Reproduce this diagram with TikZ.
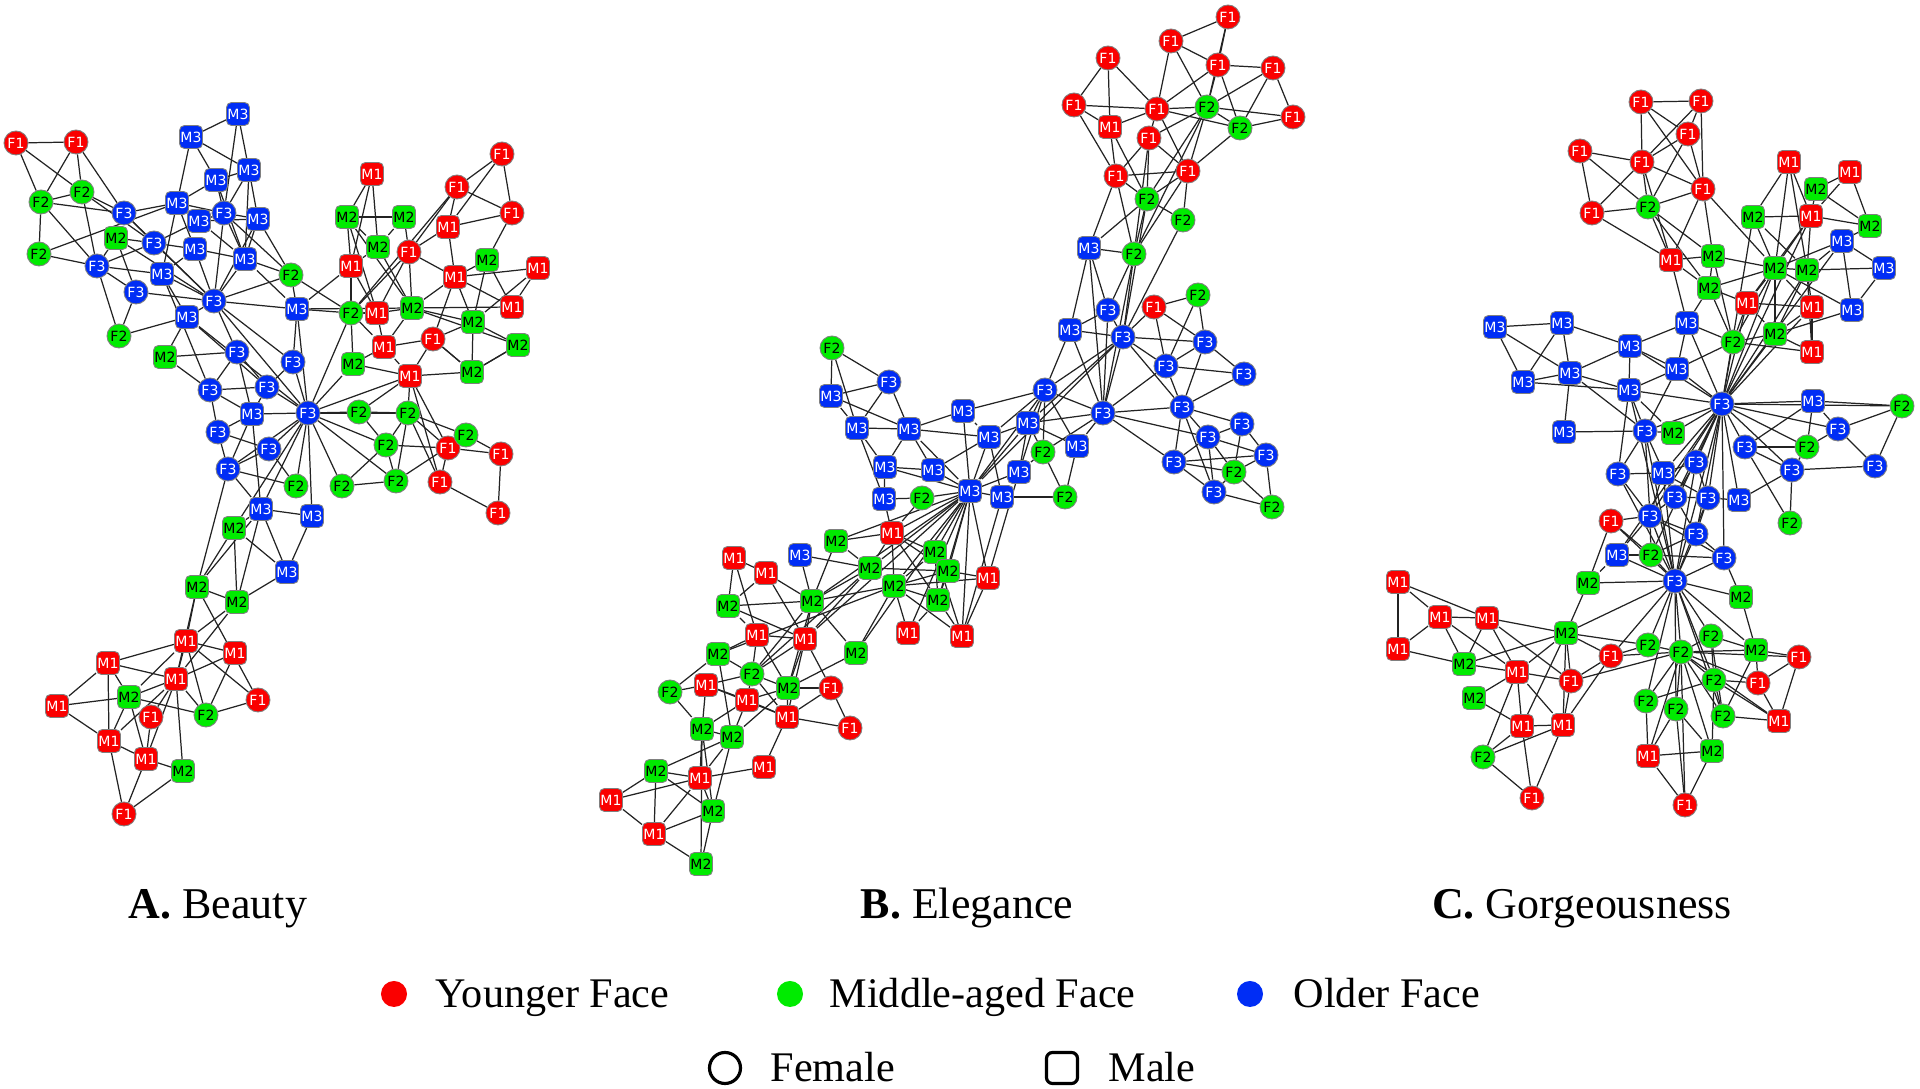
\documentclass[tikz,border=0pt]{standalone}
\usepackage{fontspec}
\setmainfont{Liberation Serif}
\newfontfamily\nodesans{DejaVu Sans}
\usetikzlibrary{backgrounds}
\definecolor{youngcolor}{RGB}{250, 0, 0}
\definecolor{middlecolor}{RGB}{0, 235, 0}
\definecolor{oldcolor}{RGB}{0, 45, 245}
\definecolor{linkcolor}{RGB}{35, 35, 35}
\tikzset{
face/.style={
  draw=black!50,
  line width=0.25pt,
  inner sep=0pt,
  font=\nodesans\fontsize{4}{4.5}\selectfont
},
female/.style={face, circle, minimum size=2.4mm},
male/.style={face, rectangle, rounded corners=0.5mm, minimum size=2.3mm},
young/.style={fill=youngcolor, text=white},
middle/.style={fill=middlecolor, text=black},
old/.style={fill=oldcolor, text=white},
F1/.style={female, young},
F2/.style={female, middle},
F3/.style={female, old},
M1/.style={male, young},
M2/.style={male, middle},
M3/.style={male, old},
link/.style={draw=linkcolor, line width=0.35pt},
caption/.style={anchor=base, font=\fontsize{12.5}{14}\selectfont},
legenddot/.style={circle, inner sep=0pt, minimum size=2.6mm},
legendmark/.style={draw=black, line width=0.9pt, inner sep=0pt, minimum size=3.1mm},
legendtext/.style={anchor=base west, inner sep=0pt, font=\fontsize{12}{14}\selectfont}
}

\begin{document}
\begin{tikzpicture}[x=0.01cm, y=-0.01cm]
\useasboundingbox (0,0) rectangle (1920,1089);

% A. Beauty
\foreach \n/\x/\y in {a1/16/143, a2/76/142, a34/409/252, a40/433/339, a42/457/187, a43/502/154, a44/512/213, a70/448/448, a71/501/454, a72/440/482, a73/498/513, a84/151/717, a86/258/700, a90/124/814}
  \node[F1] (\n) at (\x,\y) {F1};
\foreach \n/\x/\y in {a3/41/202, a4/82/192, a5/39/254, a11/119/336, a27/291/275, a36/351/313, a61/296/486, a66/359/412, a67/408/413, a68/386/445, a69/466/435, a74/342/486, a75/396/481, a85/206/715}
  \node[F2] (\n) at (\x,\y) {F2};
\foreach \n/\x/\y in {a6/124/213, a8/154/243, a9/97/266, a10/136/292, a17/224/213, a23/214/301, a26/237/352, a29/293/362, a54/210/390, a55/267/387, a57/308/413, a58/218/432, a59/269/449, a60/228/469}
  \node[F3] (\n) at (\x,\y) {F3};
\foreach \n/\x/\y in {a30/372/174, a35/351/266, a37/377/313, a39/384/347, a41/448/227, a45/455/277, a47/538/268, a48/512/307, a52/410/376, a78/186/641, a79/235/653, a80/108/663, a81/176/679, a83/57/706, a87/109/741, a88/146/759}
  \node[M1] (\n) at (\x,\y) {M1};
\foreach \n/\x/\y in {a7/116/238, a25/165/357, a31/347/217, a32/404/217, a33/378/247, a38/412/308, a46/487/260, a49/473/322, a50/518/345, a51/353/364, a53/472/372, a64/234/528, a76/197/587, a77/237/602, a82/129/697, a89/183/771}
  \node[M2] (\n) at (\x,\y) {M2};
\foreach \n/\x/\y in {a12/191/137, a13/238/114, a14/216/180, a15/249/170, a16/177/203, a18/199/221, a19/258/219, a20/195/249, a21/245/259, a22/162/274, a24/187/317, a28/297/309, a56/252/414, a62/261/509, a63/312/516, a65/287/572}
  \node[M3] (\n) at (\x,\y) {M3};

% B. Elegance
\foreach \n/\x/\y in {b1/1228/17, b2/1171/41, b3/1108/58, b4/1218/65, b5/1273/68, b6/1074/105, b8/1157/109, b10/1293/117, b12/1149/138, b13/1116/176, b14/1188/171, b22/1154/307, b78/831/688, b81/850/728}
  \node[F1] (\n) at (\x,\y) {F1};
\foreach \n/\x/\y in {b9/1207/107, b11/1240/128, b15/1147/199, b16/1183/220, b18/1134/254, b23/1198/295, b31/1043/452, b33/1065/497, b38/1234/472, b40/1272/507, b41/832/348, b52/922/498, b74/752/674, b75/670/692}
  \node[F2] (\n) at (\x,\y) {F2};
\foreach \n/\x/\y in {b19/1108/310, b21/1123/337, b24/1205/342, b25/1166/366, b26/1244/374, b27/1045/390, b28/1103/413, b29/1182/407, b34/1242/424, b35/1208/437, b36/1174/462, b37/1266/455, b39/1214/492, b42/889/382}
  \node[F3] (\n) at (\x,\y) {F3};
\foreach \n/\x/\y in {b7/1110/127, b55/892/533, b58/734/558, b59/766/573, b64/988/578, b68/908/633, b69/962/636, b70/757/635, b71/805/639, b76/706/685, b79/747/700, b80/787/717, b84/764/767, b86/700/778, b87/611/800, b89/654/834}
  \node[M1] (\n) at (\x,\y) {M1};
\foreach \n/\x/\y in {b56/836/541, b60/935/552, b61/870/568, b62/948/571, b63/894/586, b65/812/601, b66/728/606, b67/938/600, b72/856/653, b73/718/654, b77/788/688, b82/702/729, b83/732/737, b85/656/771, b88/713/811, b90/701/864}
  \node[M2] (\n) at (\x,\y) {M2};
\foreach \n/\x/\y in {b17/1089/248, b20/1070/330, b30/1028/423, b32/1077/446, b43/831/396, b44/857/428, b45/909/429, b46/963/411, b47/989/437, b48/1019/472, b49/885/467, b50/933/470, b51/884/499, b53/970/491, b54/1002/497, b57/800/555}
  \node[M3] (\n) at (\x,\y) {M3};

% C. Gorgeousness
\foreach \n/\x/\y in {c1/1641/102, c2/1701/101, c3/1688/134, c4/1580/151, c5/1642/162, c6/1703/189, c8/1592/213, c54/1611/521, c69/1571/681, c70/1611/656, c77/1532/798, c81/1685/805, c85/1799/657, c87/1758/683}
  \node[F1] (\n) at (\x,\y) {F1};
\foreach \n/\x/\y in {c7/1648/207, c28/1733/342, c39/1902/406, c44/1807/447, c56/1790/523, c58/1651/555, c71/1648/645, c72/1681/652, c76/1483/757, c78/1646/701, c79/1676/709, c83/1711/636, c86/1714/680, c88/1723/716}
  \node[F2] (\n) at (\x,\y) {F2};
\foreach \n/\x/\y in {c37/1722/404, c40/1645/431, c42/1838/429, c43/1745/447, c45/1792/470, c46/1875/466, c47/1618/474, c49/1696/462, c50/1675/497, c51/1708/498, c53/1650/516, c55/1696/534, c59/1724/558, c60/1675/581}
  \node[F3] (\n) at (\x,\y) {F3};
\foreach \n/\x/\y in {c9/1671/260, c12/1789/162, c13/1850/172, c16/1811/216, c22/1747/303, c23/1812/307, c29/1812/352, c62/1398/582, c63/1440/617, c64/1487/618, c65/1398/649, c68/1517/672, c74/1522/726, c75/1563/725, c80/1648/756, c89/1779/721}
  \node[M1] (\n) at (\x,\y) {M1};
\foreach \n/\x/\y in {c10/1713/256, c11/1709/288, c14/1816/189, c15/1753/217, c17/1870/226, c19/1775/268, c20/1807/270, c27/1775/334, c41/1673/433, c61/1588/583, c66/1566/633, c67/1464/664, c73/1474/698, c82/1741/597, c84/1756/650, c90/1712/751}
  \node[M2] (\n) at (\x,\y) {M2};
\foreach \n/\x/\y in {c18/1842/241, c21/1884/268, c24/1852/310, c25/1687/323, c26/1630/346, c30/1562/323, c31/1495/327, c32/1523/382, c33/1570/373, c34/1677/369, c35/1629/390, c36/1564/432, c38/1813/401, c48/1663/473, c52/1739/500, c57/1617/555}
  \node[M3] (\n) at (\x,\y) {M3};

% links
\begin{scope}[on background layer]
\foreach \u/\v in {a1/a2, a1/a3, a1/a4, a2/a3, a2/a4, a2/a6, a3/a4, a3/a5, a3/a6, a3/a9, a4/a6, a4/a8, a4/a9, a5/a9, a5/a16, a6/a16, a6/a8, a6/a23, a7/a8, a7/a9, a7/a10, a7/a23, a8/a9, a8/a18, a8/a20, a8/a23, a9/a10, a9/a11, a9/a22, a10/a11, a10/a23, a11/a24, a12/a13, a12/a14, a12/a15, a12/a16, a13/a15, a13/a17, a14/a15, a14/a16, a14/a17, a14/a21, a15/a17, a15/a19, a15/a21, a16/a17, a16/a18, a16/a20, a16/a22, a17/a18, a17/a19, a17/a21, a17/a23, a18/a19, a18/a21, a19/a21, a19/a23, a20/a21, a20/a22, a20/a23, a21/a23, a21/a27, a21/a28, a22/a24, a22/a23, a23/a24, a23/a26, a23/a27, a23/a28, a23/a29, a23/a57, a24/a25, a25/a26, a27/a17, a27/a19}
  \draw[link] (\u) -- (\v);
\foreach \u/\v in {a27/a28, a27/a36, a28/a29, a28/a35, a28/a36, a28/a38, a30/a31, a30/a33, a30/a35, a31/a32, a31/a33, a31/a35, a31/a37, a31/a38, a32/a33, a32/a34, a33/a35, a33/a38, a34/a36, a34/a37, a34/a38, a34/a41, a34/a42, a34/a45, a35/a36, a35/a37, a36/a37, a36/a39, a36/a42, a36/a51, a37/a38, a37/a39, a38/a39, a38/a45, a38/a48, a38/a49, a38/a50, a39/a40, a39/a51, a39/a52, a40/a45, a40/a49, a40/a52, a40/a53, a41/a42, a41/a43, a41/a44, a41/a45, a42/a43, a42/a44, a43/a44, a44/a46, a45/a46, a45/a47, a45/a48, a45/a49, a46/a48, a46/a49, a47/a48, a47/a49, a49/a50, a49/a53, a50/a53, a29/a57, a28/a57, a36/a57}
  \draw[link] (\u) -- (\v);
\foreach \u/\v in {a25/a54, a26/a54, a26/a55, a26/a56, a29/a55, a22/a54, a24/a55, a54/a55, a54/a56, a54/a58, a55/a56, a55/a57, a56/a57, a56/a58, a56/a60, a56/a62, a57/a51, a57/a52, a57/a66, a57/a67, a57/a68, a57/a74, a57/a61, a57/a59, a57/a60, a57/a62, a57/a63, a57/a64, a57/a75, a57/a24, a58/a59, a58/a60, a59/a60, a59/a61, a60/a61, a60/a62, a62/a63, a62/a64, a62/a65, a63/a65, a64/a65, a64/a76, a66/a67, a66/a68, a66/a52, a67/a68, a67/a52, a67/a75, a67/a70, a67/a72, a67/a69, a68/a75, a68/a74, a68/a70, a52/a51, a52/a53, a52/a70, a52/a72, a53/a50, a53/a40, a69/a70, a69/a71, a70/a71, a70/a72, a71/a73, a72/a73, a74/a75, a75/a69}
  \draw[link] (\u) -- (\v);
\foreach \u/\v in {a62/a76, a60/a76, a64/a77, a62/a77, a65/a77, a76/a77, a76/a78, a76/a81, a76/a86, a77/a78, a77/a81, a78/a79, a78/a80, a78/a81, a78/a82, a78/a85, a78/a86, a79/a81, a79/a85, a80/a81, a80/a82, a80/a83, a80/a87, a81/a82, a81/a84, a81/a85, a81/a87, a81/a88, a81/a89, a82/a83, a82/a85, a82/a87, a82/a88, a83/a87, a84/a88, a85/a86, a87/a88, a87/a90, a88/a89, a88/a90, a89/a90}
  \draw[link] (\u) -- (\v);
\foreach \u/\v in {b1/b2, b1/b4, b1/b9, b2/b4, b2/b8, b2/b9, b3/b6, b3/b7, b3/b8, b4/b5, b4/b8, b4/b9, b4/b11, b5/b9, b5/b10, b5/b11, b6/b7, b6/b8, b6/b13, b7/b8, b7/b13, b7/b15, b8/b9, b8/b11, b8/b14, b8/b12, b9/b10, b9/b11, b9/b12, b9/b14, b9/b15, b9/b18, b10/b11, b11/b14, b12/b13, b12/b14, b12/b15, b12/b18, b13/b14, b13/b15, b13/b17, b13/b18, b14/b15, b14/b16, b14/b18, b15/b16, b15/b17, b15/b18, b17/b18, b17/b19, b17/b20, b17/b28, b18/b19, b18/b21, b18/b28, b15/b21, b16/b21}
  \draw[link] (\u) -- (\v);
\foreach \u/\v in {b19/b20, b19/b21, b19/b28, b20/b21, b20/b27, b20/b28, b21/b22, b21/b24, b21/b25, b21/b27, b21/b28, b21/b29, b21/b30, b22/b23, b22/b25, b22/b24, b23/b24, b23/b25, b24/b25, b24/b26, b24/b29, b25/b26, b25/b28, b25/b29, b26/b29, b27/b28, b27/b30, b27/b31, b27/b32, b27/b46, b27/b47, b27/b53, b28/b29, b28/b30, b28/b31, b28/b32, b28/b35, b28/b36, b29/b34, b29/b35, b29/b36, b29/b39, b31/b33, b32/b33, b34/b35, b34/b37, b34/b38, b35/b36, b35/b37, b35/b38, b35/b39, b36/b37, b36/b38, b36/b39, b37/b38, b37/b40, b38/b39, b38/b40, b39/b40}
  \draw[link] (\u) -- (\v);
\foreach \u/\v in {b41/b42, b41/b43, b41/b44, b42/b43, b42/b44, b42/b45, b43/b44, b43/b45, b44/b45, b44/b49, b44/b51, b45/b46, b45/b47, b45/b49, b45/b50, b45/b53, b46/b47, b46/b53, b47/b30, b47/b53, b47/b54, b47/b50, b30/b53, b30/b31, b30/b48, b30/b32, b48/b53, b48/b31, b48/b27, b48/b64, b49/b50, b49/b51, b49/b53, b50/b53, b51/b52, b51/b55, b52/b53, b52/b55, b53/b54, b54/b33, b54/b69, b53/b55, b53/b56, b53/b60, b53/b61, b53/b62, b53/b63, b53/b65, b53/b67, b53/b68, b53/b69, b53/b71, b53/b72, b53/b64, b53/b21}
  \draw[link] (\u) -- (\v);
\foreach \u/\v in {b55/b56, b55/b61, b55/b63, b55/b60, b55/b62, b55/b67, b56/b61, b56/b65, b57/b61, b57/b65, b58/b59, b58/b66, b58/b70, b59/b65, b59/b66, b59/b71, b60/b63, b60/b62, b60/b67, b60/b69, b61/b63, b61/b62, b61/b65, b61/b71, b61/b74, b62/b63, b62/b64, b62/b67, b63/b64, b63/b67, b63/b68, b63/b65, b63/b73, b63/b72, b63/b69, b64/b69, b65/b66, b65/b71, b65/b72, b65/b77, b65/b74, b66/b70, b66/b71, b67/b68, b67/b69, b70/b71, b70/b73, b70/b74, b70/b77, b71/b77, b71/b78, b71/b74, b71/b80, b72/b77, b73/b74, b73/b75, b73/b83, b74/b76, b74/b77, b74/b79, b74/b80, b75/b76, b75/b82, b76/b79, b76/b82, b76/b80, b77/b78, b77/b79, b77/b80, b77/b83, b78/b80, b78/b81, b79/b80, b79/b82, b79/b83, b80/b81, b80/b84, b82/b83, b82/b86, b82/b88, b82/b90, b83/b85, b83/b86, b83/b88, b84/b86, b85/b86, b85/b87, b85/b88, b85/b89, b86/b87, b86/b88, b86/b89, b87/b89, b88/b89, b88/b90, b89/b90}
  \draw[link] (\u) -- (\v);
\foreach \u/\v in {c1/c2, c1/c3, c1/c5, c1/c6, c2/c5, c2/c6, c2/c3, c3/c5, c3/c7, c3/c6, c4/c5, c4/c8, c4/c7, c5/c6, c5/c7, c5/c8, c5/c9, c6/c7, c6/c9, c6/c10, c6/c19, c7/c8, c7/c9, c7/c11, c7/c10, c8/c9, c9/c10, c9/c11, c9/c25, c10/c11, c10/c19, c10/c28, c11/c19, c11/c22, c11/c28, c11/c25, c12/c15, c12/c16, c12/c19, c12/c20, c13/c16, c13/c17, c13/c14, c14/c16, c14/c17, c15/c16, c15/c19, c15/c20, c15/c37, c16/c17, c16/c19, c16/c20, c16/c37, c16/c22, c17/c18, c18/c19, c18/c20, c18/c21, c18/c24, c18/c37, c19/c20, c19/c22, c19/c23, c19/c27, c19/c24, c19/c37, c19/c28, c20/c21, c20/c23, c20/c27, c20/c37, c20/c29, c21/c24, c22/c23, c22/c37, c22/c28, c22/c27, c23/c29, c23/c27, c23/c37, c24/c27, c25/c26, c25/c28, c25/c37, c25/c34, c27/c28, c27/c29, c27/c37, c28/c37, c28/c29, c28/c34}
  \draw[link] (\u) -- (\v);
\foreach \u/\v in {c31/c30, c31/c32, c31/c33, c30/c32, c30/c33, c30/c26, c32/c33, c32/c35, c33/c26, c33/c35, c33/c36, c33/c40, c26/c35, c26/c34, c26/c37, c34/c35, c34/c37, c34/c40, c35/c40, c35/c41, c35/c37, c35/c47, c35/c60, c36/c40, c37/c38, c37/c39, c37/c42, c37/c43, c37/c44, c37/c45, c37/c49, c37/c50, c37/c51, c37/c52, c37/c55, c37/c59, c37/c60, c37/c40, c37/c41, c37/c48, c37/c53, c37/c58, c37/c57, c38/c39, c38/c42, c38/c43, c38/c44, c39/c42, c39/c46, c42/c44, c42/c46, c43/c44, c43/c45, c43/c56, c44/c45, c45/c46, c45/c56, c45/c52, c40/c41, c40/c47, c40/c53, c40/c60, c40/c50, c47/c48, c47/c53, c47/c60, c48/c49, c48/c50, c48/c53, c48/c51, c48/c60, c49/c50, c49/c51, c49/c60, c50/c51, c50/c53, c50/c55, c51/c52, c51/c55, c51/c60, c53/c54, c53/c57, c53/c58, c53/c60, c53/c55, c53/c59, c54/c58, c54/c60, c54/c61, c55/c58, c55/c59, c55/c60, c57/c58, c57/c60, c57/c61, c58/c59, c58/c60, c59/c60, c59/c82}
  \draw[link] (\u) -- (\v);
\foreach \u/\v in {c61/c60, c61/c66, c62/c63, c62/c64, c62/c65, c63/c64, c63/c65, c63/c67, c63/c68, c64/c66, c64/c67, c64/c68, c64/c69, c65/c67, c66/c60, c66/c67, c66/c68, c66/c69, c66/c70, c66/c71, c66/c74, c66/c75, c67/c68, c68/c69, c68/c73, c68/c74, c68/c75, c68/c76, c69/c70, c69/c75, c69/c72, c70/c71, c70/c60, c70/c75, c71/c72, c73/c74, c74/c75, c74/c76, c74/c77, c75/c76, c75/c77, c76/c77, c78/c80, c60/c82, c60/c71, c60/c72, c60/c83, c60/c84, c60/c86, c60/c88, c60/c79, c60/c78, c82/c84, c72/c83, c72/c84, c72/c85, c72/c86, c72/c87, c72/c88, c72/c89, c72/c79, c72/c78, c72/c90, c72/c81, c72/c80, c72/c70, c83/c84, c83/c86, c83/c88, c84/c85, c84/c87, c84/c88, c85/c87, c85/c89, c86/c87, c86/c88, c86/c78, c86/c89, c87/c89, c88/c89, c79/c80, c79/c90, c79/c81, c80/c90, c80/c81, c90/c81, c90/c86}
  \draw[link] (\u) -- (\v);
\end{scope}

% captions
\node[caption] (capA) at (218,919) {\textbf{A.} Beauty};
\node[caption] (capB) at (967,919) {\textbf{B.} Elegance};
\node[caption] (capC) at (1582,919) {\textbf{C.} Gorgeousness};

% legend
\node[legenddot, fill=youngcolor] (young) at (394,994) {};
\node[legendtext] (youngtext) at (435,1008) {Younger Face};
\node[legenddot, fill=middlecolor] (middle) at (790,994) {};
\node[legendtext] (middletext) at (829,1008) {Middle-aged Face};
\node[legenddot, fill=oldcolor] (old) at (1250,994) {};
\node[legendtext] (oldtext) at (1293,1008) {Older Face};
\node[legendmark, circle] (female) at (725,1068) {};
\node[legendtext] (femaletext) at (770,1082) {Female};
\node[legendmark, rounded corners=0.6mm] (male) at (1062,1068) {};
\node[legendtext] (maletext) at (1108,1082) {Male};
\end{tikzpicture}
\end{document}
